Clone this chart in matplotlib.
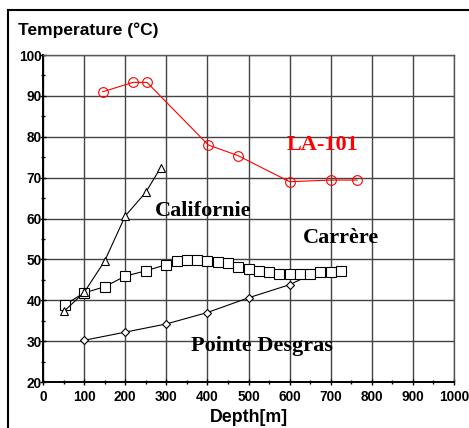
import matplotlib
matplotlib.use("Agg")
import matplotlib.pyplot as plt
from matplotlib.lines import Line2D
from matplotlib.ticker import MultipleLocator

# ---- data ----
la_x = [145, 219, 253, 402, 474, 600, 700, 764]
la_y = [91.0, 93.3, 93.3, 78.0, 75.4, 69.0, 69.4, 69.4]

cal_x = [51, 100, 150, 200, 250, 286]
cal_y = [37.3, 41.9, 49.6, 60.6, 66.4, 72.4]

car_x = [53, 100, 150, 200, 250, 300, 325, 350, 375, 400, 425, 450, 475,
         500, 525, 550, 575, 600, 625, 650, 675, 700, 725]
car_y = [38.9, 41.8, 43.3, 45.9, 47.2, 48.7, 49.6, 49.8, 49.8, 49.6, 49.3,
         49.0, 48.2, 47.7, 47.2, 46.9, 46.5, 46.4, 46.4, 46.4, 46.9, 47.0, 47.2]

pd_x = [100, 200, 300, 400, 500, 600, 650]
pd_y = [30.2, 32.2, 34.2, 37.0, 40.6, 43.8, 46.2]

x_ticks = [0, 100, 200, 300, 400, 500, 600, 700, 800, 900, 1000]
y_ticks = [20, 30, 40, 50, 60, 70, 80, 90, 100]

fig = plt.figure(figsize=(4.69, 4.28), dpi=100)
ax = fig.add_axes([43/469, 1-382/428, (454-43)/469, (382-55)/428])

ax.set_xlim(0, 1000)
ax.set_ylim(20, 100)
ax.set_xticks(x_ticks)
ax.set_yticks(y_ticks)
ax.xaxis.set_minor_locator(MultipleLocator(50))
ax.yaxis.set_minor_locator(MultipleLocator(5))
ax.grid(True, which='major', color='#444444', lw=1.0)
ax.set_axisbelow(True)

for s in ['top', 'right']:
    ax.spines[s].set_color('#555555')
    ax.spines[s].set_linewidth(1.0)
for s in ['left', 'bottom']:
    ax.spines[s].set_color('black')
    ax.spines[s].set_linewidth(1.4)

ax.tick_params(axis='x', which='major', direction='inout', length=4, width=1,
               labelsize=9.8, pad=4)
ax.tick_params(axis='y', which='major', direction='inout', length=4, width=1,
               labelsize=9.8, pad=-1)
ax.tick_params(axis='both', which='minor', direction='inout', length=3, width=1)
for lab in ax.get_xticklabels() + ax.get_yticklabels():
    lab.set_fontweight('bold')
    lab.set_family('Liberation Sans')

ax.plot(pd_x, pd_y, color='black', lw=0.8, marker='D', ms=4, mfc='white',
        mec='black', mew=0.8, zorder=3)
ax.plot(car_x, car_y, color='black', lw=0.8, marker='s', ms=7, mfc='white',
        mec='black', mew=0.8, zorder=4)
ax.plot(cal_x, cal_y, color='black', lw=0.8, marker='^', ms=5.5, mfc='white',
        mec='black', mew=0.8, zorder=5)
ax.plot(la_x, la_y, color='red', lw=0.8, marker='o', ms=7, mfc='none',
        mec='red', mew=0.8, zorder=5)

serif = dict(family='Liberation Serif', fontweight='bold', fontsize=16,
             ha='center', va='center')
ax.text(679, 78.0, 'LA-101', color='red', **serif)
ax.text(389, 61.9, 'Californie', color='black', **serif)
ax.text(725, 55.3, 'Carrère', color='black', **serif)
ax.text(532, 28.9, 'Pointe Desgras', color='black', **serif)

ax.set_xlabel('Depth[m]', fontsize=12.8, fontweight='bold', family='Liberation Sans',
              labelpad=3)
fig.text(18/469, 1-30/428, 'Temperature (°C)', fontsize=12.5, fontweight='bold',
         family='Liberation Sans', ha='left', va='center')

# outer frame (top and left edges visible)
fig.add_artist(Line2D([8/469, 8/469], [0, 1-10/428], transform=fig.transFigure,
                      color='black', lw=1.5))
fig.add_artist(Line2D([8/469, 1], [1-10/428, 1-10/428], transform=fig.transFigure,
                      color='black', lw=1.5))

fig.savefig('out.png', dpi=100)
